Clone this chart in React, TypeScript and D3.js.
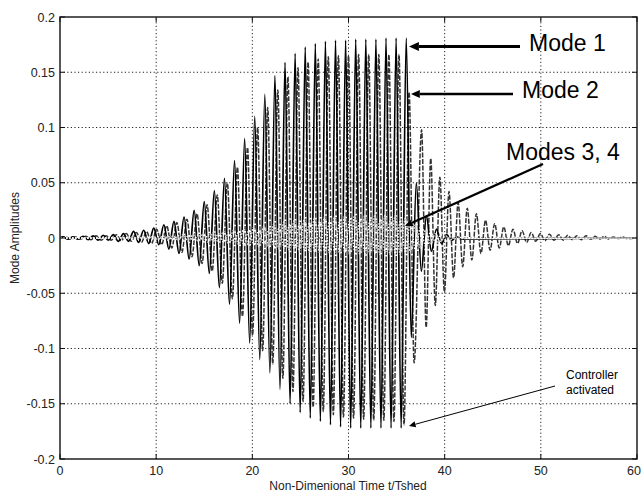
import { useEffect, useRef } from 'react';
import * as d3 from 'd3';

// peak (pos) and trough (neg, magnitude) amplitudes per shedding cycle
const mode1Start = 0.3;
const mode1Period = 1.05;
const mode1Pos = [0.001, 0.001, 0.0015, 0.002, 0.0025, 0.003, 0.004, 0.006, 0.007, 0.009, 0.012, 0.015, 0.019, 0.025, 0.033, 0.043, 0.054, 0.07, 0.09, 0.11, 0.13, 0.147, 0.159, 0.167, 0.173, 0.176, 0.178, 0.179, 0.179, 0.18, 0.18, 0.18, 0.181, 0.181, 0.181, 0.05, 0.02, 0.008, 0.003, 0.001];
const mode1Neg = [0.001, 0.001, 0.0015, 0.002, 0.002, 0.003, 0.003, 0.004, 0.005, 0.006, 0.01, 0.014, 0.019, 0.025, 0.032, 0.045, 0.06, 0.077, 0.095, 0.11, 0.122, 0.137, 0.15, 0.158, 0.163, 0.166, 0.169, 0.171, 0.172, 0.172, 0.172, 0.172, 0.172, 0.172, 0.09, 0.03, 0.012, 0.005, 0.002, 0.001];

const mode2Start = 0.6;
const mode2Period = 1.05;
const mode2Pos = [0.001, 0.001, 0.0015, 0.002, 0.002, 0.003, 0.004, 0.005, 0.006, 0.008, 0.011, 0.014, 0.017, 0.022, 0.03, 0.039, 0.05, 0.064, 0.082, 0.1, 0.118, 0.134, 0.146, 0.154, 0.159, 0.162, 0.164, 0.165, 0.165, 0.166, 0.166, 0.166, 0.166, 0.166, 0.132];
const mode2Neg = [0.001, 0.001, 0.0015, 0.002, 0.002, 0.0025, 0.003, 0.004, 0.005, 0.006, 0.009, 0.013, 0.017, 0.023, 0.03, 0.041, 0.055, 0.071, 0.088, 0.102, 0.114, 0.127, 0.139, 0.148, 0.153, 0.157, 0.16, 0.162, 0.163, 0.164, 0.165, 0.165, 0.166, 0.169, 0.113];
// after the controller is switched on
const mode2TailStart = 37.6;
const mode2TailPeriod = 0.95;
const mode2TailPos = [0.098, 0.072, 0.055, 0.042, 0.032, 0.027, 0.022, 0.016, 0.013, 0.01, 0.008, 0.0066, 0.005, 0.004, 0.0035, 0.003, 0.0025, 0.002, 0.002, 0.0015, 0.0015, 0.001, 0.001];
const mode2TailNeg = [0.081, 0.061, 0.049, 0.036, 0.026, 0.02, 0.014, 0.011, 0.009, 0.007, 0.005, 0.004, 0.003, 0.0025, 0.002, 0.002, 0.0015, 0.0015, 0.001, 0.001, 0.001, 0.0005, 0.0005];

const mode3Start = 0.2;
const mode3Period = 1.05;
const mode3Pos = [0, 0, 0, 0, 0, 0.0005, 0.0005, 0.001, 0.001, 0.0015, 0.002, 0.002, 0.003, 0.003, 0.004, 0.005, 0.006, 0.007, 0.008, 0.01, 0.011, 0.013, 0.015, 0.016, 0.017, 0.018, 0.019, 0.02, 0.02, 0.021, 0.021, 0.021, 0.021, 0.02, 0.018, 0.012, 0.007, 0.004, 0.002, 0.001];
const mode3Neg = [0, 0, 0, 0, 0, 0.0005, 0.0005, 0.001, 0.001, 0.0015, 0.002, 0.002, 0.003, 0.003, 0.004, 0.004, 0.005, 0.006, 0.007, 0.008, 0.009, 0.01, 0.011, 0.012, 0.013, 0.013, 0.014, 0.014, 0.015, 0.015, 0.015, 0.015, 0.015, 0.015, 0.013, 0.009, 0.005, 0.003, 0.0015, 0.0005];

const mode4Start = 0.75;
const mode4Period = 1.05;
const mode4Pos = [0, 0, 0, 0, 0, 0, 0.0005, 0.0005, 0.001, 0.001, 0.0015, 0.002, 0.002, 0.003, 0.003, 0.004, 0.005, 0.006, 0.007, 0.008, 0.009, 0.01, 0.012, 0.013, 0.014, 0.015, 0.016, 0.016, 0.017, 0.017, 0.017, 0.017, 0.017, 0.016, 0.015, 0.01, 0.006, 0.003, 0.0015, 0.0005];
const mode4Neg = [0, 0, 0, 0, 0, 0, 0.0005, 0.0005, 0.001, 0.001, 0.0015, 0.002, 0.002, 0.003, 0.003, 0.004, 0.005, 0.006, 0.006, 0.007, 0.008, 0.009, 0.01, 0.011, 0.012, 0.012, 0.013, 0.013, 0.013, 0.014, 0.014, 0.014, 0.014, 0.013, 0.012, 0.008, 0.005, 0.002, 0.001, 0.0005];

const xTicks = [0, 10, 20, 30, 40, 50, 60];
const yTicks = [-0.2, -0.15, -0.1, -0.05, 0, 0.05, 0.1, 0.15, 0.2];
const yTickLabels = ['-0.2', '-0.15', '-0.1', '-0.05', '0', '0.05', '0.1', '0.15', '0.2'];

function cycles(start: number, period: number, pos: number[], neg: number[]) {
  const pts: [number, number][] = [];
  pos.forEach((p, k) => {
    pts.push([start + k * period, p]);
    pts.push([start + (k + 0.5) * period, -neg[k]]);
  });
  return pts;
}

export default function App() {
  const svgRef = useRef<SVGSVGElement>(null);

  useEffect(() => {
    const svg = d3.select(svgRef.current);
    svg.selectAll('*').remove();

    const width = 642;
    const height = 493;
    const margin = { top: 17, right: 5, bottom: 34, left: 60 };
    const font = 'Liberation Sans, Arial, sans-serif';

    const x = d3.scaleLinear().domain([0, 60]).range([margin.left, width - margin.right]);
    const y = d3.scaleLinear().domain([-0.2, 0.2]).range([height - margin.bottom, margin.top]);

    svg.append('rect').attr('width', width).attr('height', height).attr('fill', '#fff');

    // grid
    const grid = svg.append('g').attr('stroke', '#222').attr('stroke-dasharray', '1.2,2.4').attr('stroke-width', 1);
    xTicks.slice(1, -1).forEach((t) => {
      grid.append('line').attr('x1', x(t)).attr('x2', x(t)).attr('y1', y(-0.2)).attr('y2', y(0.2));
    });
    yTicks.slice(1, -1).forEach((t) => {
      grid.append('line').attr('x1', x(0)).attr('x2', x(60)).attr('y1', y(t)).attr('y2', y(t));
    });

    svg
      .append('clipPath')
      .attr('id', 'plot-clip')
      .append('rect')
      .attr('x', x(0))
      .attr('y', y(0.2))
      .attr('width', x(60) - x(0))
      .attr('height', y(-0.2) - y(0.2));

    const line = d3
      .line<[number, number]>()
      .x((d) => x(d[0]))
      .y((d) => y(d[1]))
      .curve(d3.curveMonotoneX);

    const mode1 = [[0, 0] as [number, number], ...cycles(mode1Start, mode1Period, mode1Pos, mode1Neg), [60, 0] as [number, number]];
    const mode2 = [
      [0, 0] as [number, number],
      ...cycles(mode2Start, mode2Period, mode2Pos, mode2Neg),
      ...cycles(mode2TailStart, mode2TailPeriod, mode2TailPos, mode2TailNeg),
      [60, 0] as [number, number],
    ];
    const mode3 = [[0, 0] as [number, number], ...cycles(mode3Start, mode3Period, mode3Pos, mode3Neg), [60, 0] as [number, number]];
    const mode4 = [[0, 0] as [number, number], ...cycles(mode4Start, mode4Period, mode4Pos, mode4Neg), [60, 0] as [number, number]];

    const plot = svg.append('g').attr('clip-path', 'url(#plot-clip)').attr('fill', 'none');
    plot.append('path').attr('d', line(mode2)).attr('stroke', '#333').attr('stroke-width', 1.5).attr('stroke-dasharray', '5,1.5');
    plot.append('path').attr('d', line(mode1)).attr('stroke', '#000').attr('stroke-width', 1.7);
    plot.append('path').attr('d', line(mode3)).attr('stroke', '#dcdcdc').attr('stroke-width', 1.3).attr('stroke-dasharray', '2,1');
    plot.append('path').attr('d', line(mode4)).attr('stroke', '#fff').attr('stroke-width', 1.3).attr('stroke-dasharray', '1.5,1.5');

    // box + inward ticks
    svg
      .append('rect')
      .attr('x', x(0))
      .attr('y', y(0.2))
      .attr('width', x(60) - x(0))
      .attr('height', y(-0.2) - y(0.2))
      .attr('fill', 'none')
      .attr('stroke', '#111')
      .attr('stroke-width', 1.4);
    const ticks = svg.append('g').attr('stroke', '#111').attr('stroke-width', 1);
    xTicks.forEach((t) => {
      ticks.append('line').attr('x1', x(t)).attr('x2', x(t)).attr('y1', y(-0.2)).attr('y2', y(-0.2) - 5);
      ticks.append('line').attr('x1', x(t)).attr('x2', x(t)).attr('y1', y(0.2)).attr('y2', y(0.2) + 5);
    });
    yTicks.forEach((t) => {
      ticks.append('line').attr('x1', x(0)).attr('x2', x(0) + 5).attr('y1', y(t)).attr('y2', y(t));
      ticks.append('line').attr('x1', x(60)).attr('x2', x(60) - 5).attr('y1', y(t)).attr('y2', y(t));
    });

    const labels = svg.append('g').attr('font-family', font).attr('fill', '#222');
    yTicks.forEach((t, i) => {
      labels
        .append('text')
        .attr('x', x(0) - 5)
        .attr('y', y(t) + 4.5)
        .attr('text-anchor', 'end')
        .attr('font-size', 12.5)
        .text(yTickLabels[i]);
    });
    xTicks.forEach((t) => {
      labels
        .append('text')
        .attr('x', Math.min(x(t), width - 8))
        .attr('y', y(-0.2) + 16)
        .attr('text-anchor', 'middle')
        .attr('font-size', 12.5)
        .text(String(t));
    });
    labels
      .append('text')
      .attr('x', 348)
      .attr('y', 489.5)
      .attr('text-anchor', 'middle')
      .attr('font-size', 12)
      .text('Non-Dimenional Time t/Tshed');
    labels
      .append('text')
      .attr('transform', 'translate(19,238) rotate(-90)')
      .attr('text-anchor', 'middle')
      .attr('font-size', 12)
      .text('Mode Amplitudes');

    // annotations
    const ann = svg.append('g').attr('font-family', font).attr('fill', '#000');
    const arrow = (x1: number, y1: number, x2: number, y2: number, w: number, head: number) => {
      const ang = Math.atan2(y2 - y1, x2 - x1);
      const bx = x2 - head * 2.2 * Math.cos(ang);
      const by = y2 - head * 2.2 * Math.sin(ang);
      ann.append('line').attr('x1', x1).attr('y1', y1).attr('x2', bx).attr('y2', by).attr('stroke', '#000').attr('stroke-width', w);
      const px = -Math.sin(ang) * head;
      const py = Math.cos(ang) * head;
      ann
        .append('path')
        .attr('d', `M${x2},${y2}L${bx + px},${by + py}L${bx - px},${by - py}Z`)
        .attr('fill', '#000');
    };
    arrow(520, 46.5, 409, 46.5, 2.8, 4.5);
    arrow(513, 94, 411, 94, 2.4, 4);
    arrow(543, 164, 405, 226, 2.2, 3.5);
    arrow(555, 386, 409, 426, 1, 3);

    ann.append('text').attr('x', 529).attr('y', 51).attr('font-size', 23).text('Mode 1');
    ann.append('text').attr('x', 522).attr('y', 97.5).attr('font-size', 23).text('Mode 2');
    ann.append('text').attr('x', 506).attr('y', 160).attr('font-size', 23).text('Modes 3, 4');
    ann.append('text').attr('x', 566).attr('y', 379).attr('font-size', 12).text('Controller');
    ann.append('text').attr('x', 566).attr('y', 393.5).attr('font-size', 12).text('activated');
  }, []);

  return (
    <svg
      ref={svgRef}
      width={642}
      height={493}
      style={{ position: 'absolute', left: 0, top: 0, display: 'block' }}
    ></svg>
  );
}
